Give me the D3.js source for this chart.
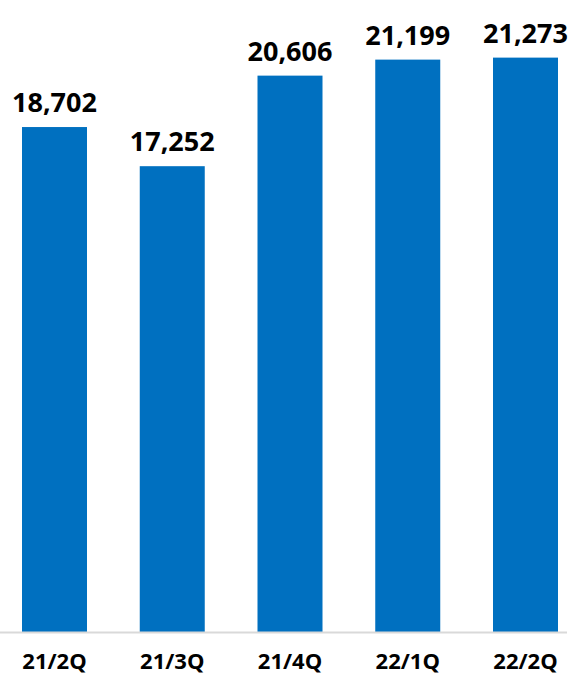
<!DOCTYPE html>
<html><head><meta charset="utf-8">
<script src="https://cdn.jsdelivr.net/npm/d3@7"></script>
<style>html,body{margin:0;padding:0;background:#fff;}svg{display:block;}</style>
</head><body><div id="chart"></div>
<script>
const categories = ["21/2Q","21/3Q","21/4Q","22/1Q","22/2Q"];
const values = [18702,17252,20606,21199,21273];

const W = 573, H = 677;
const svg = d3.select("#chart").append("svg").attr("width", W).attr("height", H);
const x = d3.scaleBand().domain(categories).range([22, 558]).paddingInner(0.448).paddingOuter(0);
const y = d3.scaleLinear().domain([0, 23407]).range([632, 0]);
const fmt = d3.format(",");

svg.selectAll("rect.bar").data(values).join("rect").attr("class","bar")
  .attr("x", (d,i)=>x(categories[i])).attr("width", x.bandwidth())
  .attr("y", d=>y(d)).attr("height", d=>y(0)-y(d)).attr("fill","#0070C0");

svg.append("line").attr("x1",0).attr("x2",567).attr("y1",632.5).attr("y2",632.5)
  .attr("stroke","#d9d9d9").attr("stroke-width",2);

svg.selectAll("text.val").data(values).join("text").attr("class","val")
  .attr("x",(d,i)=>x(categories[i])+x.bandwidth()/2).attr("y",d=>y(d)-15)
  .attr("text-anchor","middle").attr("font-family","'Open Sans'").attr("font-weight","bold")
  .attr("font-size",27).attr("fill","#000").text(d=>fmt(d));

const axis = d3.axisBottom(x).tickSize(0).tickPadding(0);
const g = svg.append("g").attr("transform","translate(0,632)").call(axis);
g.select(".domain").remove();
g.selectAll("text").attr("dy",null).attr("y",37).attr("font-family","'Open Sans'")
  .attr("font-weight","bold").attr("font-size",22).attr("fill","#000");
</script></body></html>
